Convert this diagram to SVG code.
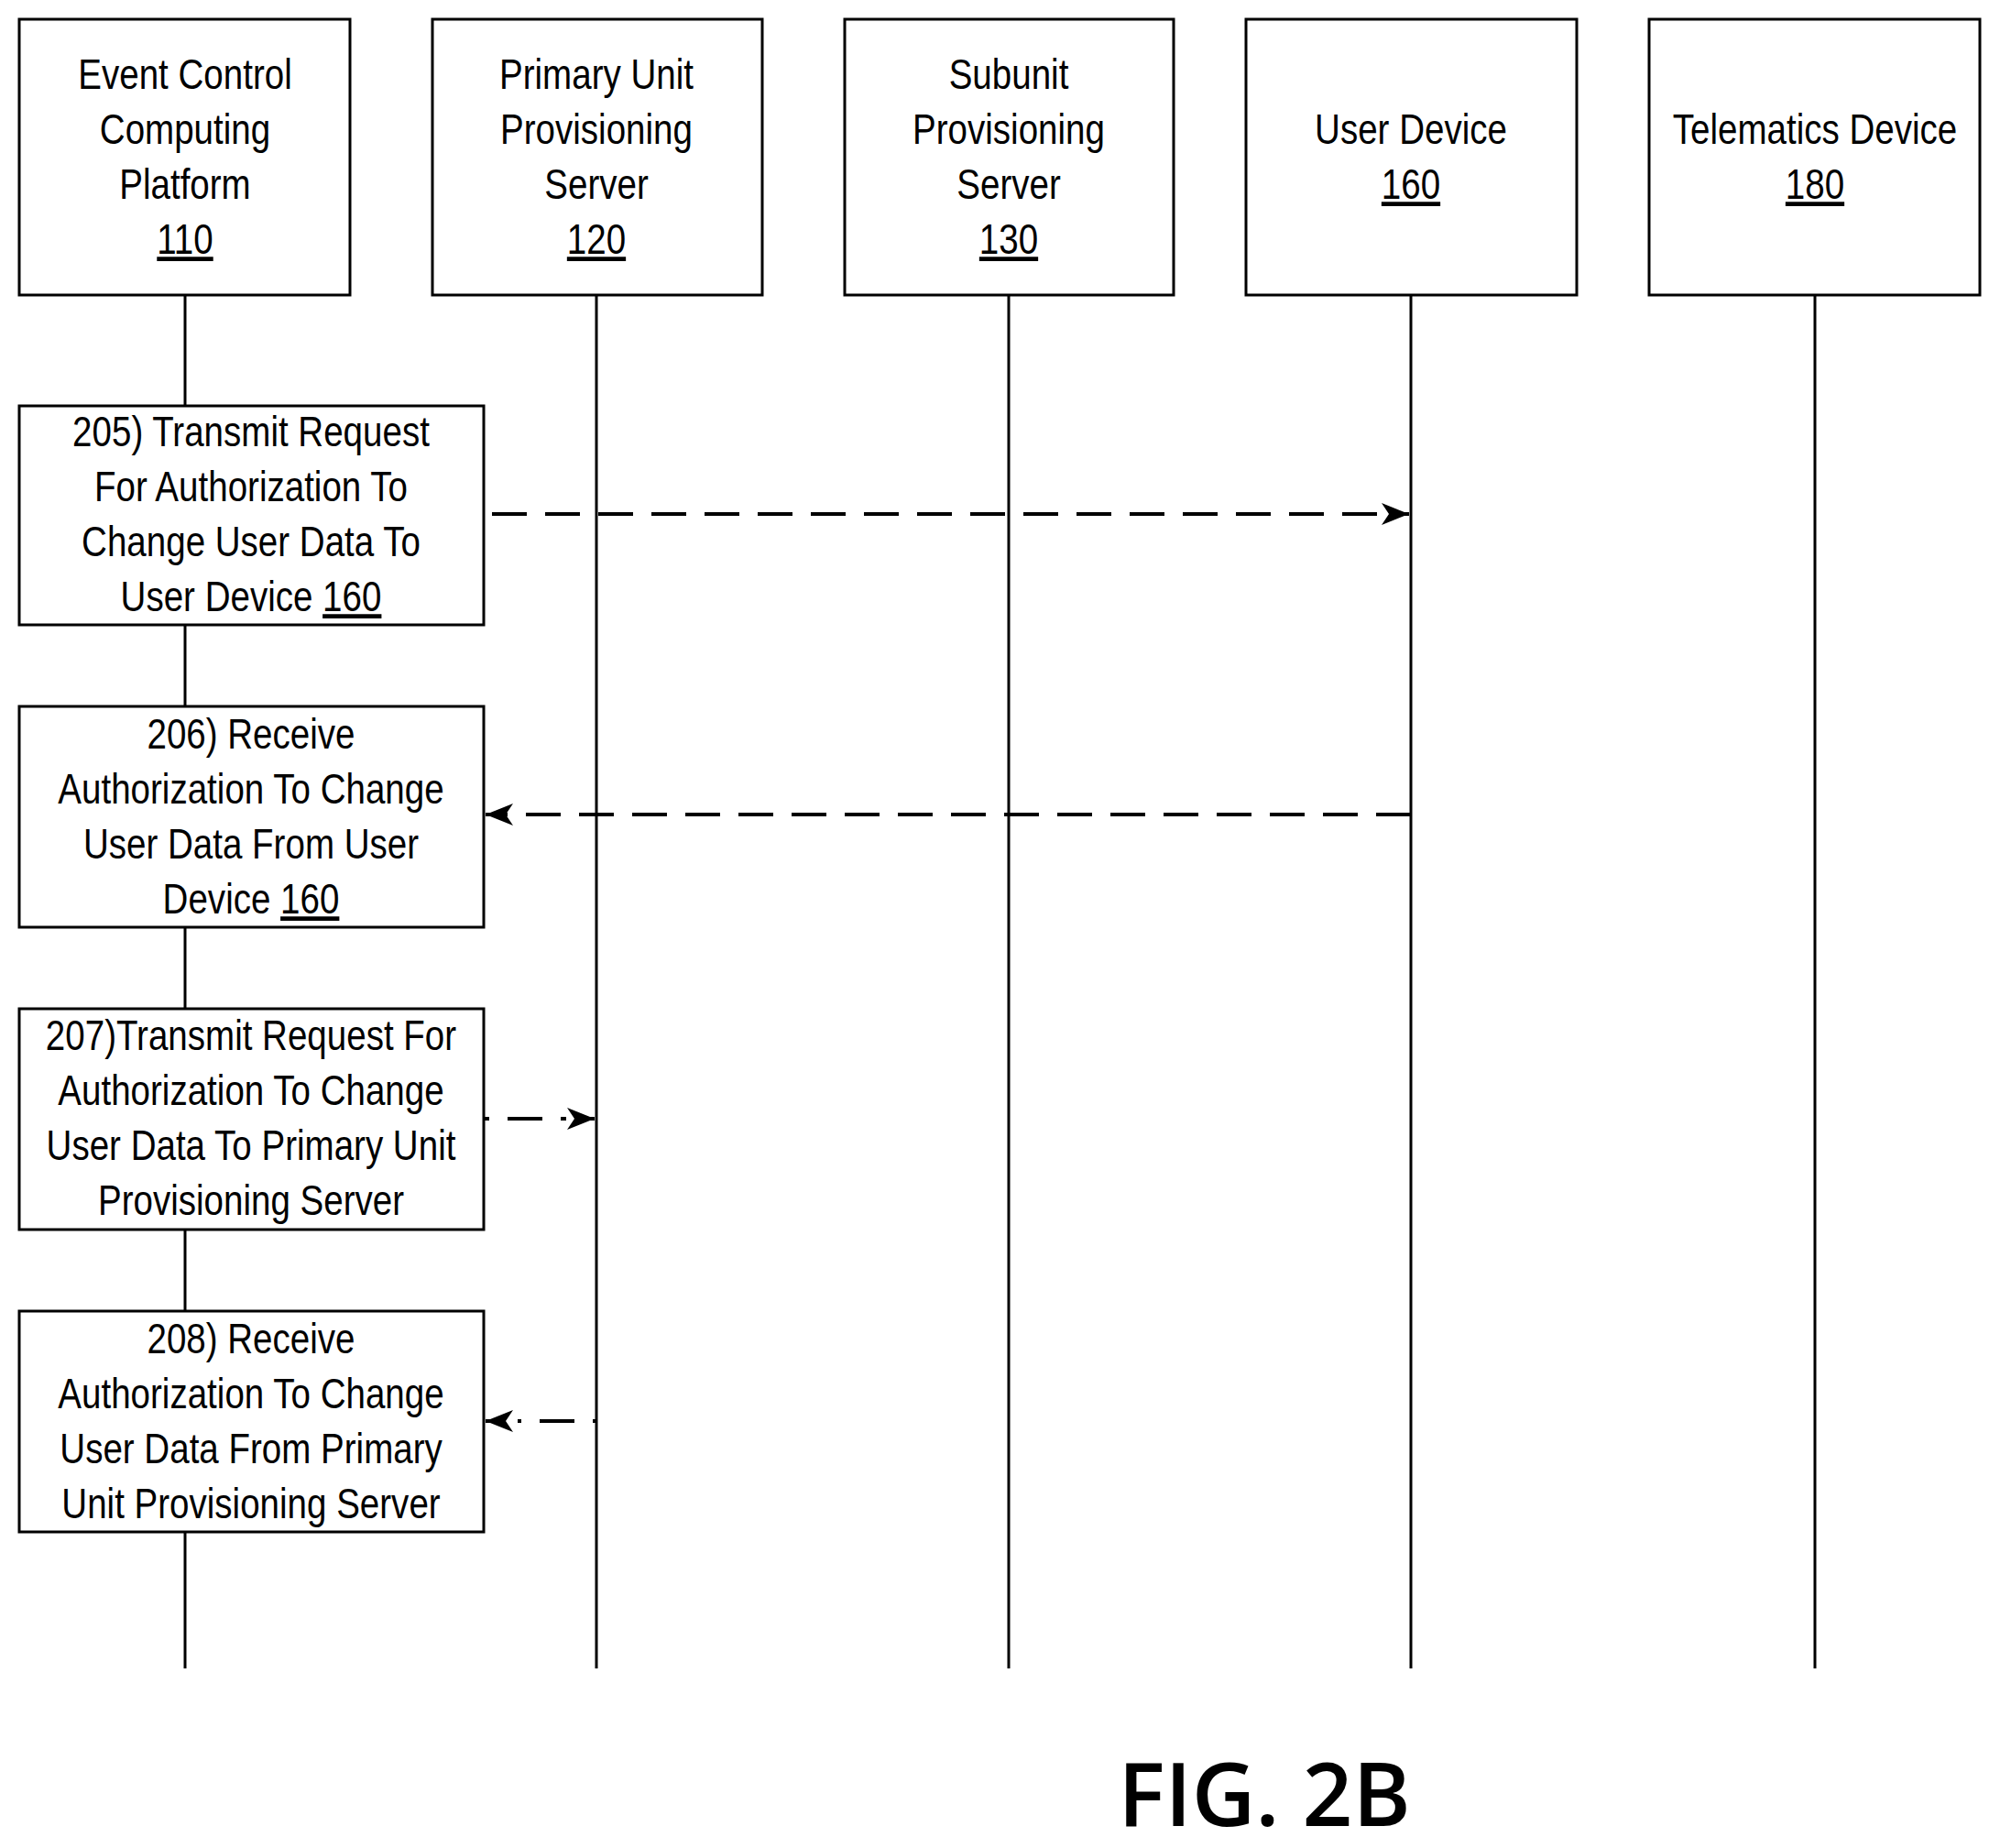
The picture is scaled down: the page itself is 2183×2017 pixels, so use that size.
<svg xmlns="http://www.w3.org/2000/svg" width="2183" height="2017" viewBox="0 0 2183 2017">
<style>
rect{fill:#fff;stroke:#000;stroke-width:3}
text{font-family:"Liberation Sans",Arial,sans-serif;font-size:47px;text-anchor:middle;fill:#000}
.t{transform-box:fill-box;transform-origin:center;transform:scaleX(0.82)}
.u{text-decoration:underline}
.life{stroke:#000;stroke-width:3}
.msg{stroke:#000;stroke-width:4;stroke-dasharray:38,20;fill:none}
</style>
<defs>
<marker id="ah" viewBox="0 0 30 24" refX="30" refY="12" markerWidth="30" markerHeight="24" orient="auto" markerUnits="userSpaceOnUse"><path d="M0,0 L30,12 L0,24 L8,12 z" fill="#000"/></marker></defs>
<g id="lifelines">
<line class="life" x1="202" y1="322" x2="202" y2="1821"/>
<line class="life" x1="651" y1="322" x2="651" y2="1821"/>
<line class="life" x1="1101" y1="322" x2="1101" y2="1821"/>
<line class="life" x1="1540" y1="322" x2="1540" y2="1821"/>
<line class="life" x1="1981" y1="322" x2="1981" y2="1821"/>
</g>
<g id="n110"><rect x="21" y="21" width="361" height="301"/><text class="t" x="202" y="97">Event Control</text><text class="t" x="202" y="157">Computing</text><text class="t" x="202" y="217">Platform</text><text x="202" y="277" class="t u">110</text></g>
<g id="n120"><rect x="472" y="21" width="360" height="301"/><text class="t" x="651" y="97">Primary Unit</text><text class="t" x="651" y="157">Provisioning</text><text class="t" x="651" y="217">Server</text><text x="651" y="277" class="t u">120</text></g>
<g id="n130"><rect x="922" y="21" width="359" height="301"/><text class="t" x="1101" y="97">Subunit</text><text class="t" x="1101" y="157">Provisioning</text><text class="t" x="1101" y="217">Server</text><text x="1101" y="277" class="t u">130</text></g>
<g id="n160"><rect x="1360" y="21" width="361" height="301"/><text class="t" x="1540" y="157">User Device</text><text x="1540" y="217" class="t u">160</text></g>
<g id="n180"><rect x="1800" y="21" width="361" height="301"/><text class="t" x="1981" y="157">Telematics Device</text><text x="1981" y="217" class="t u">180</text></g>
<g id="s205"><rect x="21" y="443" width="507" height="239"/><text class="t" x="274" y="487">205) Transmit Request</text><text class="t" x="274" y="547">For Authorization To</text><text class="t" x="274" y="607">Change User Data To</text><text class="t" x="274" y="667">User Device <tspan class="u">160</tspan></text></g>
<g id="s206"><rect x="21" y="771" width="507" height="241"/><text class="t" x="274" y="817">206) Receive</text><text class="t" x="274" y="877">Authorization To Change</text><text class="t" x="274" y="937">User Data From User</text><text class="t" x="274" y="997">Device <tspan class="u">160</tspan></text></g>
<g id="s207"><rect x="21" y="1101" width="507" height="241"/><text class="t" x="274" y="1146">207)Transmit Request For</text><text class="t" x="274" y="1206">Authorization To Change</text><text class="t" x="274" y="1266">User Data To Primary Unit</text><text class="t" x="274" y="1326">Provisioning Server</text></g>
<g id="s208"><rect x="21" y="1431" width="507" height="241"/><text class="t" x="274" y="1477">208) Receive</text><text class="t" x="274" y="1537">Authorization To Change</text><text class="t" x="274" y="1597">User Data From Primary</text><text class="t" x="274" y="1657">Unit Provisioning Server</text></g>
<g id="connectors">
<line class="msg" x1="537" y1="561" x2="1538" y2="561" marker-end="url(#ah)"/>
<line class="msg" x1="1540" y1="889" x2="530" y2="889" marker-end="url(#ah)"/>
<line class="msg" x1="528" y1="1221" x2="649" y2="1221" marker-end="url(#ah)" style="stroke-dasharray:6,20,38,20"/>
<line class="msg" x1="651" y1="1551" x2="530" y2="1551" marker-end="url(#ah)" style="stroke-dasharray:4,20,38,20"/>
</g>
<text x="1380" y="1993" style="font-family:'Open Sans','Noto Sans',sans-serif;font-size:96px;font-weight:600">FIG. 2B</text>
</svg>
